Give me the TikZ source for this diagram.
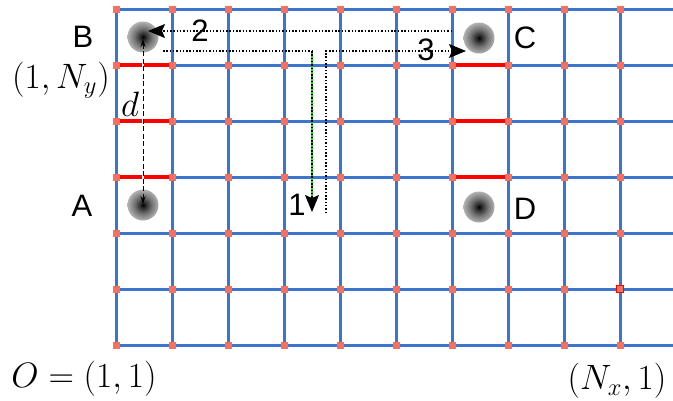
\documentclass[tikz,border=0pt]{standalone}
\usepackage{fontspec}
\newfontfamily\labelfont{Liberation Sans}
\usetikzlibrary{arrows.meta}
\definecolor{gridblue}{RGB}{60,117,204}
\definecolor{sitecol}{RGB}{250,112,92}
\definecolor{pathgreen}{RGB}{30,210,30}
\pgfdeclareradialshading{blobshade}{\pgfpoint{0bp}{0bp}}{%
  color(0bp)=(black); color(5bp)=(black!82); color(14bp)=(black!55);
  color(26bp)=(black!28); color(38bp)=(black!9); color(50bp)=(white)}
\tikzset{
  gridline/.style={draw=gridblue, line width=3pt},
  bond/.style={draw=red, line width=4pt},
  site/.style={rectangle, fill=sitecol, minimum size=7pt, inner sep=0pt},
  marksite/.style={site, draw=red, line width=0.8pt},
  blob/.style={circle, minimum size=31pt, inner sep=0pt, shading=blobshade},
  letter/.style={font=\labelfont\fontsize{31}{37}\selectfont, inner sep=0pt},
  mathlabel/.style={font=\fontsize{20}{24}\selectfont, inner sep=0pt, scale=1.7},
  hop/.style={black, line width=1.2pt, dash pattern=on 1.5pt off 1.8pt},
  bigtip/.style={-{Stealth[length=17pt,width=14pt,inset=3pt]}},
}
\begin{document}
\begin{tikzpicture}[x=1pt, y=-1pt]
\useasboundingbox (0,0) rectangle (673,400);

% lattice
\begin{scope}
  \clip (0,0) rectangle (673,400);
  \foreach \y in {9,65,...,345}
    \draw[gridline] (116,\y) -- (690,\y);
  \foreach \x in {116,172,...,676}
    \draw[gridline] (\x,9) -- (\x,345);
  % strong bonds
  \foreach \y in {65,121,177} {
    \draw[bond] (116,\y) -- (172,\y);
    \draw[bond] (452,\y) -- (508,\y);
  }
  % lattice sites
  \foreach \x in {116,172,...,676}
    \foreach \y in {9,65,...,345}
      \node[site] (s-\x-\y) at (\x,\y) {};
  \node[marksite] (mark) at (620,289) {};
\end{scope}

% particles
\node[blob] (B) at (143,37) {};
\node[blob] (A) at (143,205) {};
\node[blob] (C) at (479,38) {};
\node[blob] (D) at (479,207) {};

% labels
\node[letter] (lB) at (83,37) {B};
\node[letter] (lA) at (82,206) {A};
\node[letter] (lC) at (525,38) {C};
\node[letter] (lD) at (525,209) {D};
\node[mathlabel] (ny) at (61,80) {$(1,N_y)$};
\node[mathlabel] (org) at (84,379) {$O=(1,1)$};
\node[mathlabel] (nx) at (617,381) {$(N_x,1)$};
\node[mathlabel] (dl) at (130,104) {$d$};

% distance between A and B
\draw[white, line width=1.2pt] (B.south) -- (A.north);
\draw[black, line width=0.9pt, dash pattern=on 5pt off 2.5pt,
  {Stealth[length=8pt,width=5pt]}-{Stealth[length=8pt,width=5pt]},
  shorten <=2pt, shorten >=1pt] (B.center) -- (A.center);

% hopping paths
\coordinate (h2a) at (452,31);
\coordinate (h2b) at (148,31);
\coordinate (h1a) at (163,51);
\coordinate (h1b) at (312,51);
\coordinate (h1c) at (312,212);
\coordinate (h3a) at (326,213);
\coordinate (h3b) at (326,51);
\coordinate (h3c) at (466,51);

\draw[hop, bigtip] (h2a) -- (h2b);
\draw[hop] (h1a) -- (h1b);
\draw[pathgreen, line width=1.5pt] (h1b) -- ([yshift=14pt]h1c);
\draw[hop, bigtip] (h1b) -- (h1c);
\draw[hop, bigtip] (h3a) -- (h3b) -- (h3c);

\node[letter] (n2) at (200,31) {2};
\node[letter] (n1) at (297,205) {1};
\node[letter] (n3) at (426,50) {3};
\end{tikzpicture}
\end{document}
